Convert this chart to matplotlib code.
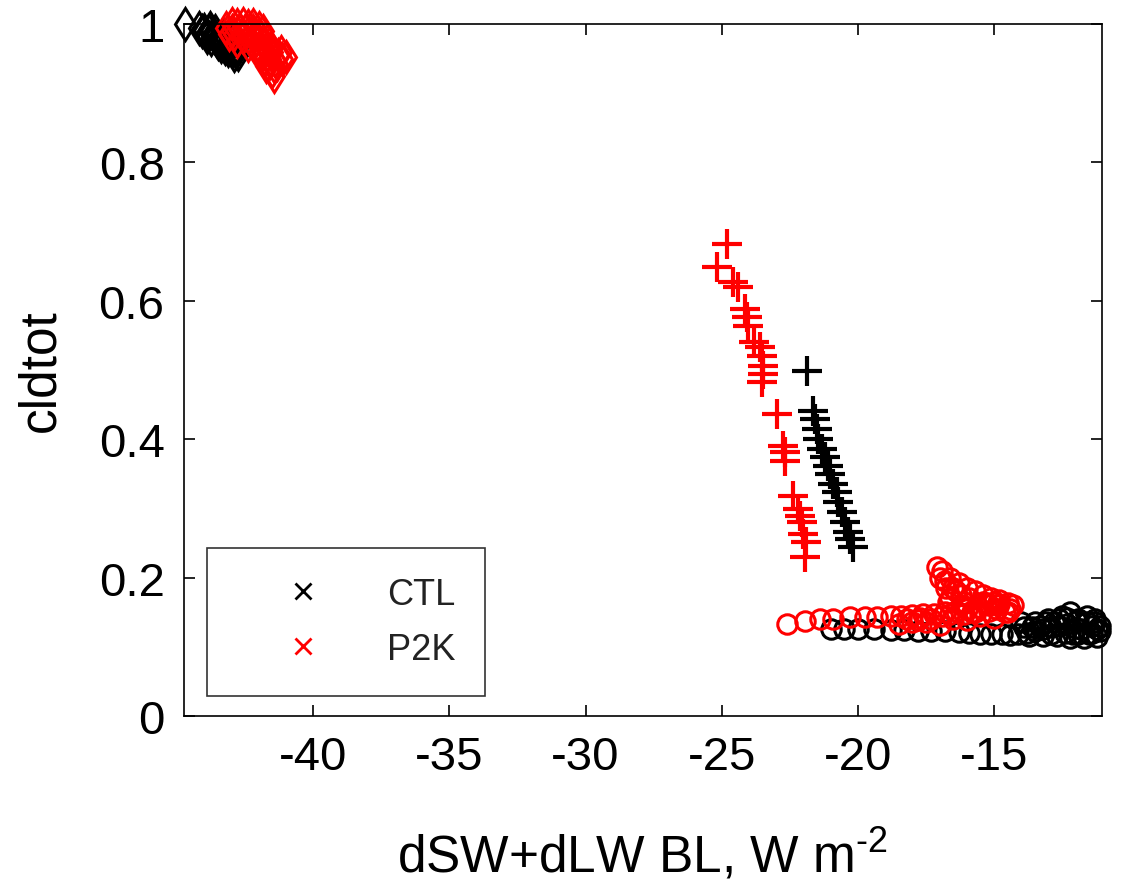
import matplotlib
matplotlib.use("Agg")
import matplotlib.pyplot as plt
from matplotlib.lines import Line2D

plt.rcParams['font.family'] = ['Liberation Sans', 'DejaVu Sans']
plt.rcParams['mathtext.fontset'] = 'custom'
plt.rcParams['mathtext.rm'] = 'Liberation Sans'
plt.rcParams['mathtext.it'] = 'Liberation Sans'

# ---------------- data ----------------
# CTL (black)
ctl_dia_x = [-44.70, -44.20, -44.00, -43.85, -43.70, -43.60, -43.45, -43.30, -43.20,
             -43.05, -42.95, -42.85, -42.75, -43.60, -43.30, -43.00, -43.90, -43.50,
             -44.10, -43.75, -43.40, -43.15, -42.90, -43.80, -43.95, -43.55, -43.25,
             -42.80]
ctl_dia_y = [1.000, 0.995, 0.992, 0.990, 0.986, 0.982, 0.978, 0.975, 0.970,
             0.967, 0.963, 0.960, 0.957, 0.990, 0.984, 0.975, 0.982, 0.972,
             0.990, 0.978, 0.968, 0.962, 0.955, 0.995, 0.985, 0.975, 0.965,
             0.965]

ctl_plus_x = [-21.88, -21.66, -21.58, -21.51, -21.47, -21.33, -21.22, -21.11, -21.03,
              -20.92, -20.78, -20.74, -20.60, -20.48, -20.37, -20.30, -20.19]
ctl_plus_y = [0.499, 0.441, 0.429, 0.415, 0.400, 0.386, 0.374, 0.361, 0.350,
              0.335, 0.324, 0.309, 0.295, 0.280, 0.266, 0.256, 0.244]

ctl_circ_x = [-21.0, -20.5, -20.0, -19.4, -18.8, -18.3, -17.8, -17.3, -16.8, -16.3,
              -15.9, -15.5, -15.1, -14.7, -14.4, -14.1, -13.8, -13.5, -13.2, -12.9,
              -12.6, -12.3, -12.0, -12.5, -12.2, -11.9, -11.6, -11.4, -11.2, -11.1,
              -13.0, -13.5, -11.8, -12.4, -13.2, -11.5, -12.8, -11.3, -13.9, -12.7,
              -12.1, -11.7, -14.0, -13.6, -12.3, -11.2, -13.7, -13.3, -12.9, -12.6,
              -12.0, -11.6, -11.4, -11.9, -13.1, -12.2, -11.1, -11.3]
ctl_circ_y = [0.126, 0.126, 0.125, 0.125, 0.124, 0.124, 0.123, 0.122, 0.122, 0.121,
              0.120, 0.119, 0.118, 0.118, 0.117, 0.118, 0.120, 0.122, 0.125, 0.128,
              0.130, 0.133, 0.137, 0.145, 0.150, 0.140, 0.135, 0.130, 0.126, 0.122,
              0.140, 0.135, 0.125, 0.120, 0.115, 0.118, 0.135, 0.135, 0.128, 0.116,
              0.118, 0.113, 0.135, 0.128, 0.142, 0.114, 0.115, 0.130, 0.118, 0.140,
              0.127, 0.145, 0.120, 0.118, 0.135, 0.113, 0.130, 0.140]

# P2K (red)
p2k_dia_x = [-43.20, -43.00, -42.80, -42.60, -42.40, -42.20, -42.00, -41.85, -42.90,
             -42.60, -42.30, -42.10, -41.90, -41.70, -41.50, -41.30, -41.15, -41.60,
             -41.45, -41.50, -42.00, -41.80, -42.40, -42.70, -42.20, -43.10, -41.35,
             -42.50, -42.00, -41.70, -41.90, -41.60, -42.30, -42.15, -41.40, -42.80,
             -41.75, -43.00, -41.55, -41.20, -41.00, -41.45]
p2k_dia_y = [0.995, 1.000, 0.998, 1.000, 0.997, 0.999, 0.995, 0.990, 0.985,
             0.982, 0.985, 0.978, 0.972, 0.965, 0.960, 0.955, 0.950, 0.950,
             0.940, 0.932, 0.960, 0.950, 0.970, 0.990, 0.990, 0.985, 0.942,
             0.990, 0.985, 0.975, 0.960, 0.945, 0.975, 0.965, 0.948, 0.975,
             0.940, 0.990, 0.965, 0.960, 0.952, 0.925]

p2k_plus_x = [-24.81, -25.18, -24.59, -24.40, -24.15, -24.08, -24.04, -23.80, -23.60,
              -23.53, -23.50, -23.50, -23.53, -22.98, -22.76, -22.68, -22.68, -22.39,
              -22.20, -22.13, -22.06, -22.02, -21.90, -21.95]
p2k_plus_y = [0.682, 0.649, 0.627, 0.620, 0.588, 0.577, 0.564, 0.540, 0.533,
              0.520, 0.506, 0.494, 0.483, 0.436, 0.390, 0.381, 0.369, 0.318,
              0.299, 0.289, 0.280, 0.263, 0.251, 0.230]

p2k_circ_x = [-22.6, -21.95, -21.4, -20.9, -20.3, -19.75, -19.3, -18.8, -18.4, -18.0,
              -17.6, -17.2, -16.8, -16.4, -16.0, -15.6, -15.2, -14.8, -14.5, -14.3,
              -17.5, -16.5, -15.5, -14.6, -18.0, -17.0, -16.0, -15.0, -18.5, -17.8,
              -17.1, -16.9, -16.6, -16.3, -16.0, -15.7, -15.4, -15.1, -14.8,
              -16.8, -16.5, -16.2, -15.9, -15.3, -14.9, -14.5, -15.8, -16.7,
              -18.2, -17.7, -17.3, -16.9, -16.6, -16.1, -15.7, -15.2, -14.9, -14.4,
              -15.4, -15.0, -16.2, -16.6, -17.0, -16.75, -16.4, -16.1]
p2k_circ_y = [0.133, 0.137, 0.140, 0.140, 0.143, 0.143, 0.143, 0.145, 0.145, 0.146,
              0.147, 0.148, 0.150, 0.152, 0.155, 0.157, 0.160, 0.162, 0.163, 0.160,
              0.135, 0.140, 0.145, 0.150, 0.135, 0.132, 0.138, 0.142, 0.133, 0.138,
              0.215, 0.210, 0.200, 0.192, 0.185, 0.180, 0.175, 0.170, 0.168,
              0.195, 0.185, 0.175, 0.170, 0.163, 0.160, 0.150, 0.150, 0.165,
              0.140, 0.142, 0.140, 0.145, 0.147, 0.148, 0.150, 0.152, 0.155, 0.155,
              0.165, 0.165, 0.160, 0.170, 0.200, 0.185, 0.180, 0.165]

legend_labels = ['CTL', 'P2K']
colors = {'CTL': 'black', 'P2K': 'red'}

x_ticks = [-40, -35, -30, -25, -20, -15]
y_ticks = [0, 0.2, 0.4, 0.6, 0.8, 1.0]
y_ticklabels = ['0', '0.2', '0.4', '0.6', '0.8', '1']
x_lim = (-44.75, -11.05)
y_lim = (0, 1)

# ---------------- figure ----------------
fig = plt.figure(figsize=(11.24, 8.95), dpi=100)
ax = fig.add_axes([0.1637, 0.199, 0.8163, 0.773])

def draw(xs, ys, color, marker, ms, mew):
    ax.plot(xs, ys, linestyle='none', marker=marker, markersize=ms,
            markerfacecolor='none', markeredgecolor=color, markeredgewidth=mew,
            clip_on=False)

draw(ctl_dia_x, ctl_dia_y, colors['CTL'], 'd', 16.5, 2.2)
draw(ctl_plus_x, ctl_plus_y, colors['CTL'], '+', 21, 3.0)
draw(ctl_circ_x, ctl_circ_y, colors['CTL'], 'o', 14, 2.2)

draw(p2k_dia_x, p2k_dia_y, colors['P2K'], 'd', 16.5, 2.2)
draw(p2k_plus_x, p2k_plus_y, colors['P2K'], '+', 21, 3.0)
draw(p2k_circ_x, p2k_circ_y, colors['P2K'], 'o', 14, 2.2)

ax.set_xlim(*x_lim)
ax.set_ylim(*y_lim)
ax.set_xticks(x_ticks)
ax.set_xticklabels([str(t) for t in x_ticks])
ax.set_yticks(y_ticks)
ax.set_yticklabels(y_ticklabels)
ax.tick_params(direction='in', length=8, width=1.2, top=True, right=True,
               labelsize=34, pad=14)
for s in ax.spines.values():
    s.set_linewidth(1.2)

ax.set_xlabel(r'dSW+dLW BL, W m$^{\text{-2}}$', fontsize=37, labelpad=34)
ax.set_ylabel('cldtot', fontsize=37, labelpad=24)

handles = [Line2D([], [], linestyle='none', marker='x', markersize=11,
                  markeredgewidth=2.0, color=colors[l]) for l in legend_labels]
leg = ax.legend(handles, legend_labels, loc='lower left',
                bbox_to_anchor=(0.025, 0.029), borderaxespad=0,
                fontsize=26, frameon=True, fancybox=False, edgecolor='black',
                handlelength=3.7, handletextpad=0.5, borderpad=0.8,
                labelspacing=0.55)
leg.get_frame().set_linewidth(1.2)
for t in leg.get_texts():
    t.set_color('#222222')

fig.savefig('out.png', dpi=100)
